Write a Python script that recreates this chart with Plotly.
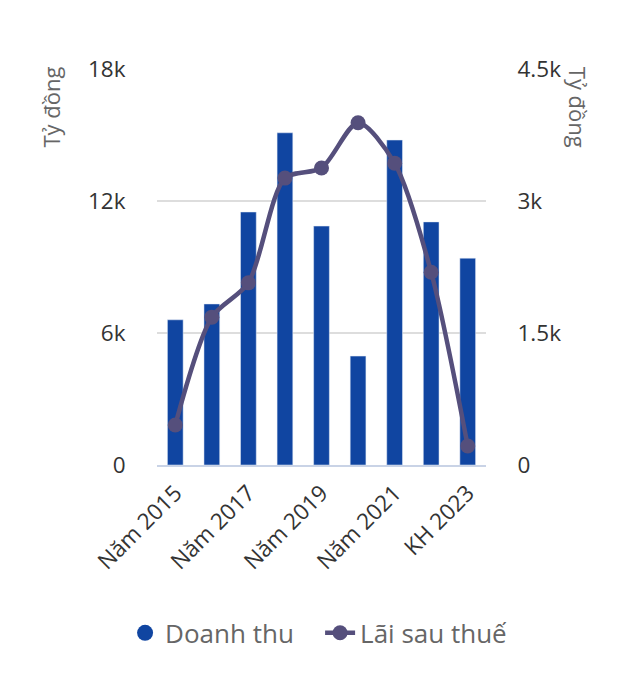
import plotly.graph_objects as go

categories = ["Năm 2015", "Năm 2016", "Năm 2017", "Năm 2018", "Năm 2019",
              "Năm 2020", "Năm 2021", "Năm 2022", "KH 2023"]
doanh_thu = [6600, 7320, 11500, 15100, 10860, 4950, 14770, 11050, 9400]
lai_sau_thue = [455, 1680, 2070, 3260, 3375, 3890, 3430, 2190, 216]
tick_labels = ["Năm 2015", "Năm 2017", "Năm 2019", "Năm 2021", "KH 2023"]
left_ticks = [0, 6000, 12000, 18000]
left_tick_text = ["0", "6k", "12k", "18k"]
right_ticks = [0, 1500, 3000, 4500]
right_tick_text = ["0", "1.5k", "3k", "4.5k"]

FONT = "Open Sans"
bar_color = "#1045a1"
line_color = "#554f7c"

fig = go.Figure()
# bars (legend entry drawn by a circle-marker proxy below)
fig.add_trace(go.Bar(
    x=categories, y=doanh_thu, name="Doanh thu", showlegend=False,
    marker=dict(color=bar_color), width=0.43, yaxis="y",
))
fig.add_trace(go.Scatter(
    x=[categories[0]], y=[None], name="Doanh thu", mode="markers",
    marker=dict(color=bar_color, size=20, symbol="circle"), yaxis="y",
))
fig.add_trace(go.Scatter(
    x=categories, y=lai_sau_thue, name="Lãi sau thuế",
    mode="lines+markers", yaxis="y2",
    line=dict(color=line_color, width=4.5, shape="spline", smoothing=0.8),
    marker=dict(color=line_color, size=15),
))

# page body has an 8px default margin -> figure is 8px smaller, margins shifted
fig.update_layout(
    width=627, height=667,
    margin=dict(l=149, r=149, t=61, b=210, autoexpand=False),
    paper_bgcolor="white", plot_bgcolor="white",
    font=dict(family=FONT, size=22, color="#333333"),
    bargap=0.57,
    showlegend=True,
    legend=dict(orientation="h",
                x=-0.097, xanchor="left", y=-0.424, yanchor="middle",
                font=dict(size=26, color="#666666"), entrywidth=150,
                traceorder="normal"),
    xaxis=dict(
        range=[-0.5, len(categories) - 0.5],
        tickmode="array", tickvals=tick_labels, ticktext=tick_labels,
        tickangle=-45, showgrid=False, showline=True, linecolor="#c9d3e6",
        linewidth=2, ticks="outside", ticklen=4, tickcolor="rgba(0,0,0,0)",
        tickfont=dict(size=22.5, color="#333333"),
        categoryorder="array", categoryarray=categories, automargin=False,
    ),
    yaxis=dict(
        range=[0, 18000], tickmode="array", tickvals=left_ticks, ticktext=left_tick_text,
        showgrid=True, gridcolor="#dddddd", gridwidth=1.5, zeroline=False,
        ticks="outside", ticklen=26, tickcolor="rgba(0,0,0,0)",
        tickfont=dict(size=22.5, color="#333333"), automargin=False,
    ),
    yaxis2=dict(
        range=[0, 4500], tickmode="array", tickvals=right_ticks, ticktext=right_tick_text,
        overlaying="y", side="right", showgrid=False, zeroline=False,
        ticks="outside", ticklen=26, tickcolor="rgba(0,0,0,0)",
        tickfont=dict(size=22.5, color="#333333"), automargin=False,
    ),
    annotations=[
        dict(text="Tỷ đồng", xref="paper", yref="paper", x=-0.325, y=1.01,
             xanchor="center", yanchor="top", textangle=-90, showarrow=False,
             font=dict(size=22, color="#666666", family=FONT)),
        dict(text="Tỷ đồng", xref="paper", yref="paper", x=1.282, y=1.01,
             xanchor="center", yanchor="top", textangle=90, showarrow=False,
             font=dict(size=22, color="#666666", family=FONT)),
    ],
)

fig.write_html("out.html")
